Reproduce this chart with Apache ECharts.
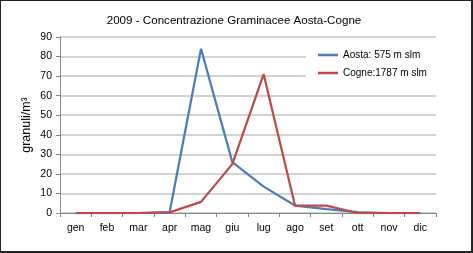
<!DOCTYPE html>
<html>
<head>
<meta charset="utf-8">
<script src="https://cdn.jsdelivr.net/npm/echarts@6/dist/echarts.min.js"></script>
<style>
html,body{margin:0;padding:0;background:#fff;}
#c{width:473px;height:253px;}
</style>
</head>
<body>
<div id="c"></div>
<script>
var categories = ['gen','feb','mar','apr','mag','giu','lug','ago','set','ott','nov','dic'];
var aosta = [0, 0, 0, 0.5, 84, 26, 13.5, 3.8, 2, 0.5, 0, 0];
var cogne = [0, 0, 0, 0.3, 5.7, 25, 71, 3.8, 3.8, 0, 0, 0];
var yTicks = {min: 0, max: 90, interval: 10};
var titleText = '2009 - Concentrazione Graminacee Aosta-Cogne';
var yName = 'granuli/m³';
var seriesNames = ['Aosta: 575 m slm', 'Cogne:1787 m slm'];

var font = 'Liberation Sans, Arial, sans-serif';
var chart = echarts.init(document.getElementById('c'), null, {renderer: 'canvas'});
chart.setOption({
  animation: false,
  backgroundColor: '#fff',
  textStyle: {fontFamily: font},
  title: {
    text: titleText,
    left: 229,
    textAlign: 'center',
    top: 10,
    textStyle: {fontSize: 11.6, fontWeight: 'normal', color: '#000', fontFamily: font}
  },
  grid: {left: 60, right: 37, top: 37, bottom: 40, containLabel: false},
  legend: {
    orient: 'vertical',
    left: 306,
    top: 43,
    padding: [7, 10, 7, 12],
    itemGap: 8,
    itemWidth: 20,
    itemHeight: 2.5,
    icon: 'rect',
    backgroundColor: '#fff',
    textStyle: {fontSize: 10, color: '#000', fontFamily: font},
    data: seriesNames
  },
  xAxis: {
    type: 'category',
    data: categories,
    boundaryGap: true,
    axisLine: {lineStyle: {color: '#868686', width: 1}},
    axisTick: {show: true, length: 4, lineStyle: {color: '#868686'}},
    axisLabel: {fontSize: 10.5, color: '#000', margin: 10, fontFamily: font},
    splitLine: {show: false}
  },
  yAxis: {
    type: 'value',
    min: yTicks.min,
    max: yTicks.max,
    interval: yTicks.interval,
    name: yName,
    nameLocation: 'middle',
    nameGap: 27,
    nameRotate: 90,
    nameMoveOverlap: false,
    nameTextStyle: {fontSize: 12.5, color: '#000', fontFamily: font},
    axisLine: {show: true, lineStyle: {color: '#868686', width: 1}},
    axisTick: {show: true, length: 4, lineStyle: {color: '#868686'}},
    axisLabel: {fontSize: 10.5, color: '#000', margin: 8, fontFamily: font},
    splitLine: {show: true, lineStyle: {color: '#c4c4c4', width: 1.5}}
  },
  series: [
    {
      name: seriesNames[0],
      type: 'line',
      data: aosta,
      symbol: 'none',
      lineStyle: {color: '#4a7ebb', width: 2.25},
      itemStyle: {color: '#4a7ebb'}
    },
    {
      name: seriesNames[1],
      type: 'line',
      data: cogne,
      symbol: 'none',
      lineStyle: {color: '#be4b48', width: 2.25},
      itemStyle: {color: '#be4b48'}
    }
  ],
  graphic: [{
    type: 'rect',
    shape: {x: 0, y: 0, width: 472, height: 252},
    style: {fill: 'none', stroke: '#222', lineWidth: 2},
    silent: true,
    z: 100
  }]
});
</script>
</body>
</html>
